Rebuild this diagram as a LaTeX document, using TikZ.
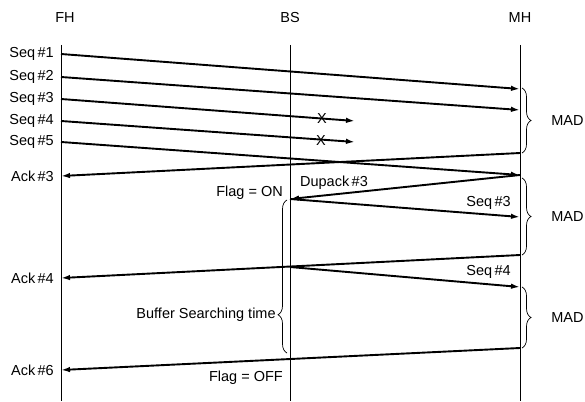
\documentclass[tikz,border=0pt]{standalone}
\usepackage{fontspec}
\setmainfont{Liberation Sans}
\usetikzlibrary{arrows.meta,decorations.pathreplacing}

\begin{document}
\begin{tikzpicture}[x=1pt,y=-1pt,
  font=\fontsize{14.5}{16}\selectfont,
  lifeline/.style={line width=0.8pt},
  msg/.style={line width=1.9pt,-{Latex[length=9pt,width=5.5pt]}},
  lbl/.style={inner sep=1pt},
  madbrace/.style={line width=0.7pt,decorate,decoration={brace,amplitude=9pt}}]
  \useasboundingbox (0,0) rectangle (585,401);
  \node[lbl] (fhlabel) at (65,18) {FH};
  \node[lbl] (bslabel) at (290,18) {BS};
  \node[lbl] (mhlabel) at (520,18) {MH};
  \coordinate (fhtop) at (61,45);
  \coordinate (fhbot) at (61,401);
  \coordinate (bstop) at (290,45);
  \coordinate (bsbot) at (290,401);
  \coordinate (mhtop) at (520,45);
  \coordinate (mhbot) at (520,401);
  \draw[lifeline] (fhtop) -- (fhbot);
  \draw[lifeline] (bstop) -- (bsbot);
  \draw[lifeline] (mhtop) -- (mhbot);
  \node[lbl,anchor=east] (seq1) at (55,54) {Seq\,\#1};
  \node[lbl,anchor=east] (seq2) at (55,77) {Seq\,\#2};
  \node[lbl,anchor=east] (seq3) at (55,99) {Seq\,\#3};
  \node[lbl,anchor=east] (seq4) at (55,121) {Seq\,\#4};
  \node[lbl,anchor=east] (seq5) at (55,142) {Seq\,\#5};
  \node[lbl,anchor=east] (ack3) at (55,176) {Ack\,\#3};
  \node[lbl,anchor=east] (ack4) at (55,278) {Ack\,\#4};
  \node[lbl,anchor=east] (ack6) at (55,370) {Ack\,\#6};
  \coordinate (fh1) at (61,54);
  \coordinate (fh2) at (61,77);
  \coordinate (fh3) at (61,99);
  \coordinate (fh4) at (61,121);
  \coordinate (fh5) at (61,142);
  \coordinate (fh6) at (61,176);
  \coordinate (fh7) at (61,278);
  \coordinate (fh8) at (61,370);
  \coordinate (mh1) at (520,89);
  \coordinate (mh2) at (520,110);
  \coordinate (mh3) at (520,153);
  \coordinate (mh4) at (520,175);
  \coordinate (mh5) at (520,217);
  \coordinate (mh6) at (520,255);
  \coordinate (mh7) at (520,287);
  \coordinate (mh8) at (520,348);
  \coordinate (bs1) at (290,199);
  \coordinate (bs2) at (290,267);
  \coordinate (lost3) at (355,121);
  \coordinate (lost4) at (355,142);
  \draw[msg] (fh1) -- (mh1);
  \draw[msg] (fh2) -- (mh2);
  \draw[msg] (fh3) -- (lost3);
  \draw[msg] (fh4) -- (lost4);
  \draw[msg] (fh5) -- (mh4);
  \draw[msg] (mh3) -- (fh6);
  \node[lbl] (drop3) at (322,119) {X};
  \node[lbl] (drop4) at (321,141) {X};
  \draw[msg] (mh4) -- (bs1);
  \draw[msg] (bs1) -- (mh5);
  \draw[msg] (mh6) -- (fh7);
  \draw[msg] (bs2) -- (mh7);
  \draw[msg] (mh8) -- (fh8);
  \node[lbl] (dupack) at (334,183) {Dupack\,\#3};
  \node[lbl,anchor=east] (flagon) at (284,193) {Flag = ON};
  \node[lbl,anchor=east] (flagoff) at (284,378) {Flag = OFF};
  \node[lbl,anchor=east] (reseq3) at (512,203) {Seq\,\#3};
  \node[lbl,anchor=east] (reseq4) at (512,272) {Seq\,\#4};
  \draw[madbrace] (522,88) -- (522,153) node[midway,right=28pt,lbl] (mad1) {MAD};
  \draw[madbrace] (522,178) -- (522,255) node[midway,right=28pt,lbl] (mad2) {MAD};
  \draw[madbrace] (522,287) -- (522,348) node[midway,right=28pt,lbl] (mad3) {MAD};
  \draw[madbrace,decoration={aspect=0.25}] (287,353) -- (287,200) node[pos=0.25,left=10pt,lbl] (bst) {Buffer Searching time};
\end{tikzpicture}
\end{document}
